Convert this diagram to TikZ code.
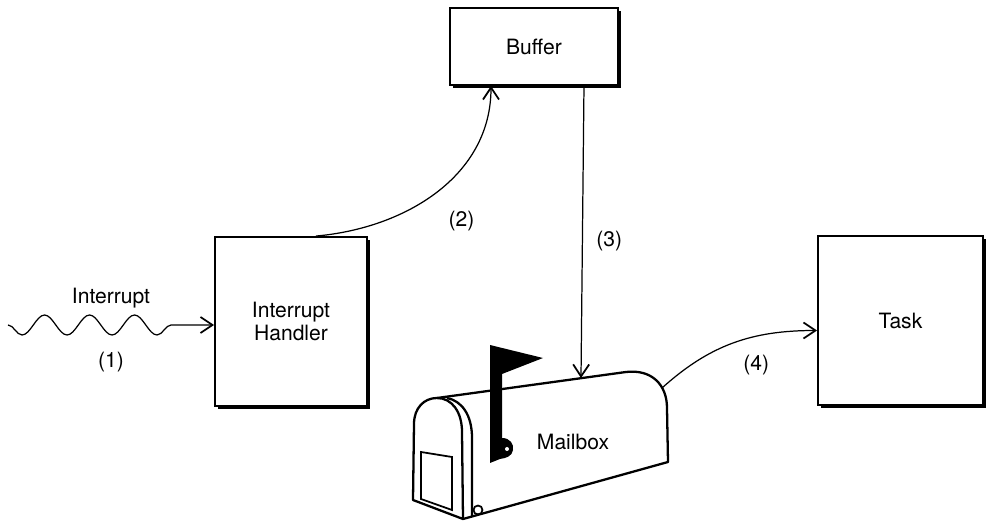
\documentclass[tikz,border=0pt]{standalone}
\usepackage{fontspec}
\setmainfont{TeX Gyre Heros}
\usetikzlibrary{arrows.meta,positioning,decorations.pathmorphing,shadows}
\tikzset{
  box/.style={draw, line width=1.1pt, fill=white, inner sep=0pt, align=center,
    drop shadow={shadow xshift=1.7pt, shadow yshift=-1.7pt, opacity=1, fill=black}},
  flow/.style={line width=0.7pt, -{Straight Barb[length=2.4mm,width=3.2mm,line width=1pt]}},
  mbline/.style={line width=1.3pt, line join=round}
}

\begin{document}
\begin{tikzpicture}[x=0.02cm, y=-0.02cm,
    every node/.style={font=\fontsize{12}{13.5}\selectfont}]
  \useasboundingbox (0,0) rectangle (988,523);

  \node[box, minimum width=3.36cm, minimum height=1.54cm] (buf) at (534,46.5) {Buffer};
  \node[box, minimum width=3.04cm, minimum height=3.38cm] (ih) at (291,321.5) {Interrupt\\Handler};
  \node[box, minimum width=3.3cm, minimum height=3.38cm] (task) at (900.5,320.5) {Task};

  % mailbox body
  \draw[mbline] (437,398) -- (626,372) .. controls (652,369) and (667,385) .. (667,408)
    -- (668,462) -- (463,519);
  \draw[mbline] (447,398) .. controls (462,401) and (472,415) .. (472,438) -- (472,516);
  % front door
  \draw[mbline] (413,500) -- (414,424) .. controls (414,408) and (424,398) .. (437,398)
    .. controls (452,398) and (462,412) .. (462,432) -- (463,519) -- cycle;
  \draw[line width=1pt] (421,452) -- (452,457) -- (452,510) -- (421,499) -- cycle;
  \draw[line width=1pt] (478,510) circle (4.5);
  % flag
  \fill (490,345) -- (543,358) -- (502,374) -- (502,438)
    .. controls (510,438) and (514,444) .. (513,450)
    .. controls (512,456) and (507,458) .. (500,459) -- (490,463) -- cycle;
  \fill[white] (507,449) circle (2);
  \node (mbox) at (573,442) {Mailbox};
  \coordinate (mtop) at (581,378);
  \coordinate (mback) at (662,388);

  \coordinate (src) at (8,325);
  \draw[flow, decorate, decoration={snake, mirror, amplitude=0.2cm,
      segment length=0.9cm, post length=0.6cm}]
    (src) -- node[above=6pt] {Interrupt} node[below=12pt] {(1)} (src -| ih.west);
  \draw[flow] ([xshift=0.5cm]ih.north) to[out=5, in=-90]
    node[pos=0.5, below right=0.25cm and 0.1cm] {(2)} ([xshift=-0.86cm]buf.south);
  \draw[flow] ([xshift=1cm]buf.south) -- node[pos=0.53, right=0.15cm] {(3)} (mtop);
  \draw[flow] (mback) to[out=42, in=180]
    node[pos=0.65, below=0.25cm] {(4)} ([yshift=-0.2cm]task.west);
\end{tikzpicture}
\end{document}
